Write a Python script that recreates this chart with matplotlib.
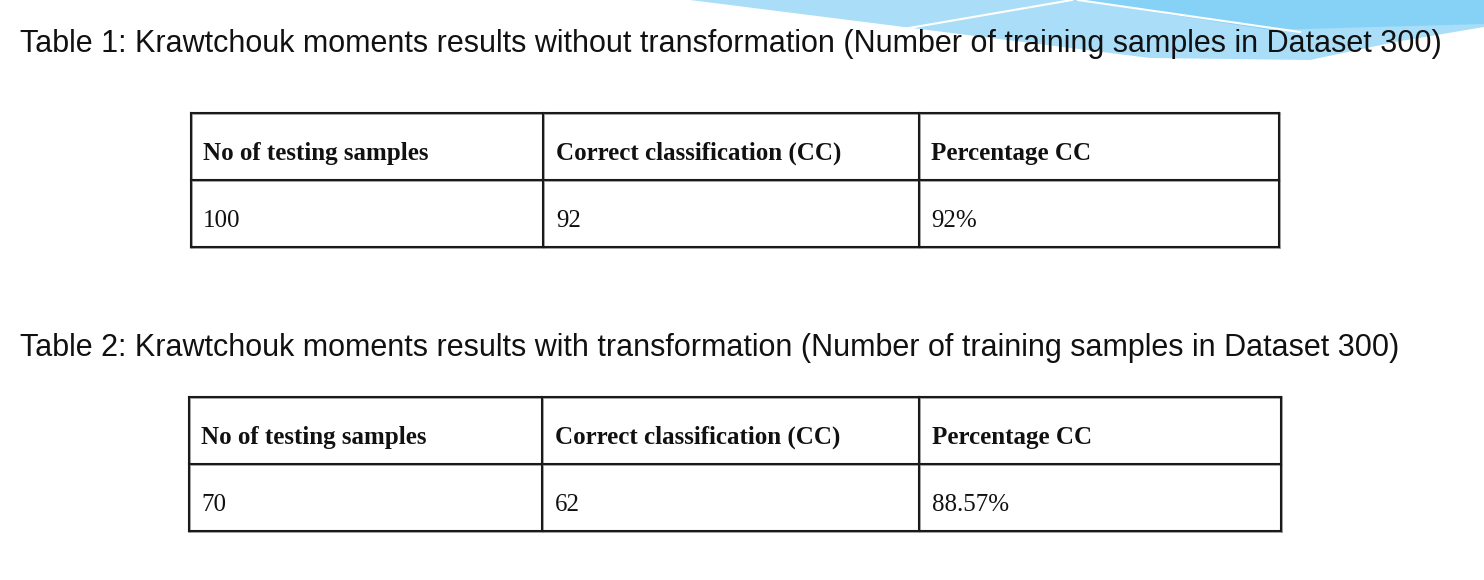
import matplotlib
matplotlib.use("Agg")
import matplotlib.pyplot as plt
from matplotlib.patches import Polygon

# ---- data ----
titles = [
    "Table 1: Krawtchouk moments results without transformation (Number of training samples in Dataset 300)",
    "Table 2: Krawtchouk moments results with transformation (Number of training samples in Dataset 300)",
]
headers = ["No of testing samples", "Correct classification (CC)", "Percentage CC"]
testing_samples = ["100", "70"]
correct_cc = ["92", "62"]
percentage_cc = ["92%", "88.57%"]

# ---- layout (pixels) ----
W, H = 1484, 580
fig = plt.figure(figsize=(W / 100, H / 100), dpi=100)
ax = fig.add_axes([0, 0, 1, 1])
ax.set_xlim(0, W)
ax.set_ylim(H, 0)
ax.axis("off")

# decorative blue shape top right
ax.add_patch(Polygon([(690, 0), (1484, 0), (1484, 27), (1395, 42), (1310, 60), (1150, 58)],
                     closed=True, facecolor="#aadef8", edgecolor="none", zorder=0))
ax.add_patch(Polygon([(1075, 0), (1484, 0), (1484, 24), (1270, 30)],
                     closed=True, facecolor="#86d2f6", edgecolor="none", zorder=0))
ax.plot([880, 1072], [33, 0], color="white", lw=1.5, zorder=1)
ax.plot([1078, 1300], [0, 32], color="white", lw=1.5, zorder=1)

title_pos = [(20, 52, 1442), (20, 356, 1400)]
tables = [
    dict(x=[191, 543, 919, 1279], y=[113, 180, 247], tx=[203, 556, 931]),
    dict(x=[189, 542, 919, 1281], y=[397, 464, 531], tx=[201, 555, 932]),
]

fig.canvas.draw()
renderer = fig.canvas.get_renderer()

for i, (tx0, ty, tx1) in enumerate(title_pos):
    t = ax.text(tx0, ty, titles[i], fontsize=20, family="Liberation Sans",
                ha="left", va="baseline", color="#111111")
    bb = t.get_window_extent(renderer)
    t.set_fontsize(20 * (tx1 - tx0) / bb.width)

for i, tb in enumerate(tables):
    xs, ys = tb["x"], tb["y"]
    # soft grey shadow
    for yy in ys:
        ax.plot([xs[0], xs[-1] + 1], [yy + 1.2, yy + 1.2], color="#9a9a9a", lw=1.2, zorder=2)
    for xx in xs:
        ax.plot([xx + 1.2, xx + 1.2], [ys[0], ys[-1] + 1], color="#9a9a9a", lw=1.2, zorder=2)
    for yy in ys:
        ax.plot([xs[0], xs[-1]], [yy, yy], color="#1a1a1a", lw=1.5,
                solid_capstyle="projecting", zorder=3)
    for xx in xs:
        ax.plot([xx, xx], [ys[0], ys[-1]], color="#1a1a1a", lw=1.5,
                solid_capstyle="projecting", zorder=3)
    hy = ys[0] + 47
    ry = ys[1] + 47
    row = [testing_samples[i], correct_cc[i], percentage_cc[i]]
    for j in range(3):
        ax.text(tb["tx"][j], hy, headers[j], fontsize=18, fontweight="bold",
                family="Liberation Serif", ha="left", va="baseline", color="#111111")
        ax.text(tb["tx"][j], ry, row[j], fontsize=18, family="Liberation Serif",
                ha="left", va="baseline", color="#111111")

fig.savefig("out.png", dpi=100, facecolor="white")
